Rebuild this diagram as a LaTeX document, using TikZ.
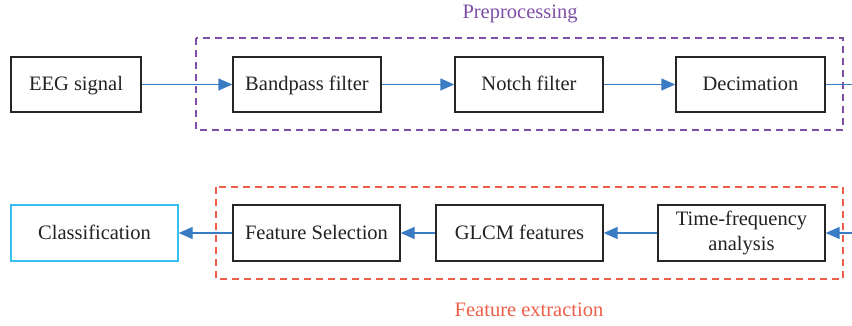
\documentclass[tikz,border=0pt]{standalone}
\usepackage{fontspec}
\setmainfont{Liberation Serif}
\usetikzlibrary{arrows.meta}
\definecolor{txt}{HTML}{222222}
\definecolor{arr}{HTML}{3A7CC4}
\definecolor{prep}{HTML}{7E4FA6}
\definecolor{feat}{HTML}{EE5E48}
\definecolor{cls}{HTML}{35BFEE}
\tikzset{
  blk/.style={draw=black!85, line width=1.4pt, text=txt, inner sep=0pt, align=center,
    font=\fontsize{20.5}{24.5}\selectfont},
  one/.style={text height=15.5pt, text depth=3.5pt},
  conn/.style={draw=arr, line width=1.4pt, -{Triangle[length=14pt,width=12pt]}},
  grp/.style={dashed, dash pattern=on 7pt off 5pt, line width=1.3pt},
  lbl/.style={font=\fontsize{20.5}{22}\selectfont, inner sep=0pt}
}
\begin{document}
\begin{tikzpicture}[x=1pt,y=-1pt]
\useasboundingbox (0,0) rectangle (852,326);
% group frames
\draw[grp, draw=prep] (196,38) rectangle (843,130);
\draw[grp, draw=feat] (216,187) rectangle (843,279);
\node[lbl, text=prep] (plbl) at (520,14) {Preprocessing};
\node[lbl, text=feat] (flbl) at (529,310) {Feature extraction};
% top row
\node[blk, one, minimum width=130pt, minimum height=55pt] (eeg) at (76,84.5) {EEG signal};
\node[blk, one, minimum width=148pt, minimum height=55pt] (bp) at (307,84.5) {Bandpass filter};
\node[blk, one, minimum width=148pt, minimum height=55pt] (nf) at (529,84.5) {Notch filter};
\node[blk, one, minimum width=149pt, minimum height=55pt] (dec) at (750.5,84.5) {Decimation};
\coordinate (outr) at (852,84.5);
% bottom row
\node[blk, one, draw=cls, minimum width=167pt, minimum height=56pt] (cl) at (94.5,233) {Classification};
\node[blk, one, minimum width=167pt, minimum height=56pt] (fs) at (316.5,233) {Feature Selection};
\node[blk, one, minimum width=167pt, minimum height=56pt] (gl) at (519.5,233) {GLCM features};
\node[blk, minimum width=167pt, minimum height=56pt] (tf) at (741.5,233) {Time-frequency\\analysis};
\coordinate (inr) at (852,233);
% connectors
\draw[conn] (eeg) -- (bp);
\draw[conn] (bp) -- (nf);
\draw[conn] (nf) -- (dec);
\draw[draw=arr, line width=1.4pt] (dec) -- (outr);
\draw[conn] (inr) -- (tf);
\draw[conn] (tf) -- (gl);
\draw[conn] (gl) -- (fs);
\draw[conn] (fs) -- (cl);
\end{tikzpicture}
\end{document}
